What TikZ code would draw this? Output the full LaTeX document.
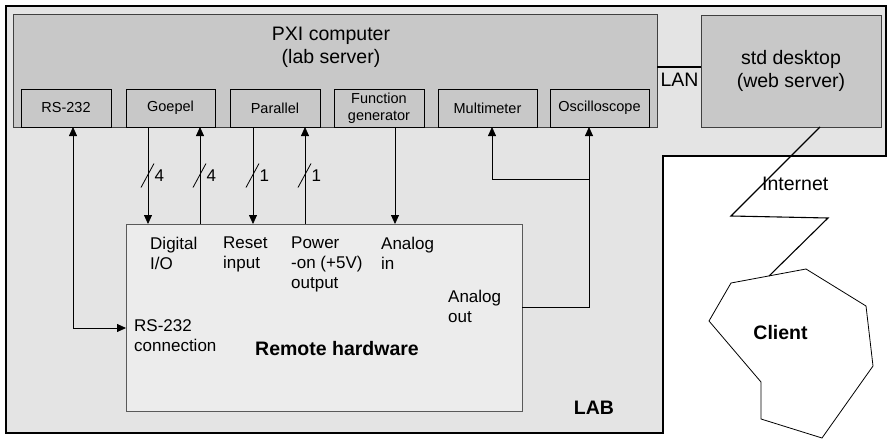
\documentclass[tikz,border=0pt]{standalone}
\usepackage{fontspec}
\setmainfont{Liberation Sans}
\usetikzlibrary{arrows.meta,calc}
\definecolor{labfill}{RGB}{228,228,228}
\definecolor{pxifill}{RGB}{200,200,200}
\definecolor{hwfill}{RGB}{236,236,236}
\newcommand\fbig{\fontsize{19.5}{23}\selectfont}
\newcommand\fmid{\fontsize{17}{20}\selectfont}
\newcommand\fsml{\fontsize{14.5}{17}\selectfont}
\begin{document}
\begin{tikzpicture}[x=1pt,y=-1pt,
  subbox/.style={draw=black, line width=0.8pt, fill=pxifill, minimum height=38pt, inner sep=0pt, outer sep=0pt, align=center, font=\fsml},
  bigbox/.style={draw=black!75, line width=1pt, fill=pxifill, inner sep=0pt, outer sep=0pt},
  arr/.style={-{Triangle[length=9pt,width=8pt]}, line width=0.8pt},
  arrb/.style={{Triangle[length=9pt,width=8pt]}-{Triangle[length=9pt,width=8pt]}, line width=0.8pt},
  lbl/.style={anchor=north west, inner sep=0pt, align=left, font=\fmid},
  blab/.style={anchor=base, inner sep=0pt, font=\bfseries\fbig},
]
\useasboundingbox (0,0) rectangle (888,439);
\fill[white] (0,0) rectangle (888,439);
% LAB region
\draw[line width=2.5pt, fill=labfill] (6,6) -- (886,6) -- (886,156) -- (663,156) -- (663,433) -- (6,433) -- cycle;
% PXI computer
\node[bigbox, minimum width=644pt, minimum height=113pt] (pxi) at (335,70.5) {};
\node[anchor=north, inner sep=0pt, align=center, font=\fbig] (pxit) at (331,26.7) {PXI computer\\(lab server)};
\node[subbox, minimum width=90pt] (rs) at (66,108) {RS-232};
\node[subbox, minimum width=89pt] (goe) at (170.5,108) {Goepel};
\node[subbox, minimum width=90pt] (par) at (275,108) {Parallel};
\node[subbox, minimum width=90pt] (fg) at (379,108) {Function\\generator};
\node[subbox, minimum width=99pt] (mm) at (487.5,108) {Multimeter};
\node[subbox, minimum width=99pt] (osc) at (599.5,108) {Oscilloscope};
% desktop
\node[bigbox, minimum width=180pt, minimum height=112pt, align=center, font=\fbig] (desk) at (791,71) {std desktop\\(web server)};
\coordinate (lanA) at ([yshift=3.5pt]pxi.east);
\draw[line width=1.3pt] (lanA) -- (lanA -| desk.west);
\node[font=\fbig, anchor=base, inner sep=0pt] (lan) at (679.5,86.7) {LAN};
% remote hardware
\node[draw=black!65, line width=0.9pt, fill=hwfill, minimum width=396pt, minimum height=187pt, inner sep=0pt, outer sep=0pt] (hw) at (324,317.5) {};
\node[lbl] (ldig) at (150,237) {Digital\\I/O};
\node[lbl] (lres) at (223,237) {Reset\\input};
\node[lbl] (lpow) at (291,237) {Power\\-on (+5V)\\output};
\node[lbl] (lain) at (381,237) {Analog\\in};
\node[lbl] (laout) at (448,289.8) {Analog\\out};
\node[lbl] (lrsc) at (134,319.5) {RS-232\\connection};
\node[blab] (hwt) at (337,355.7) {Remote hardware};
\node[blab] (labt) at (594,414) {LAB};
% connectors
\coordinate (rsx) at ([xshift=7pt]rs.south);
\draw[arrb] (rsx) |- (hw.west |- 0,328);
\coordinate (g1) at ([xshift=-22.5pt]goe.south);
\coordinate (g2) at ([xshift=29.5pt]goe.south);
\coordinate (p1) at ([xshift=-22pt]par.south);
\coordinate (p2) at ([xshift=30pt]par.south);
\coordinate (f1) at ([xshift=16pt]fg.south);
\draw[arr] (g1) -- coordinate[pos=.5] (sg1) (g1 |- hw.north);
\draw[arr] (g2 |- hw.north) -- coordinate[pos=.5] (sg2) (g2);
\draw[arr] (p1) -- coordinate[pos=.5] (sp1) (p1 |- hw.north);
\draw[arr] (p2 |- hw.north) -- coordinate[pos=.5] (sp2) (p2);
\draw[arr] (f1) -- (f1 |- hw.north);
\foreach \s/\t in {sg1/4,sg2/4,sp1/1,sp2/1}{
  \draw[line width=0.8pt] (\s) ++(-7,12) -- ++(13,-24);
  \node[font=\fmid, anchor=base west, inner sep=0pt] (n\s) at ([shift={(6.5,6)}]\s) {\t};
}
\coordinate (ox) at ([xshift=-10.5pt]osc.south);
\coordinate (mx) at ([xshift=4.5pt]mm.south);
\draw[arr] (hw.east |- 0,307) -| (ox);
\draw[arr] (ox |- 0,179) -| (mx);
% client and internet
\draw[line width=0.8pt, fill=white] (731,283) -- (806,269) -- (866,306) -- (873,366) -- (822,438) -- (761,419) -- (761,382) -- (709,321) -- cycle;
\coordinate (cltop) at (769,276);
\coordinate (lz0) at ([xshift=29pt]desk.south);
\draw[line width=1.1pt] (lz0) -- (731,216) -- (828,218) -- (cltop);
\node[font=\fbig, anchor=base west, inner sep=0pt] (inet) at (762,190) {Internet};
\node[blab] (client) at (780.5,339) {Client};
\end{tikzpicture}
\end{document}
